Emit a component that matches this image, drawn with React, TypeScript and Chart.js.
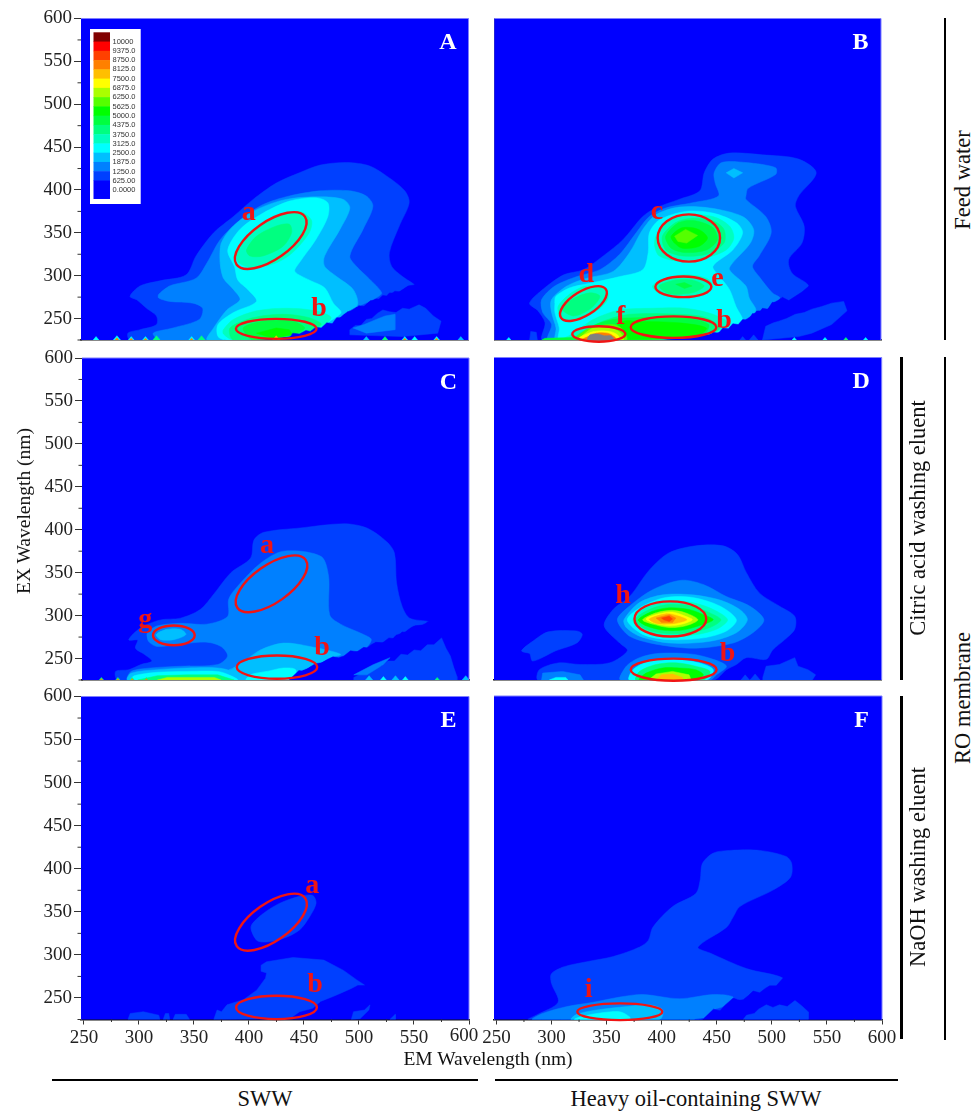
import React, { useEffect, useRef } from "react";
import { Chart, registerables } from "chart.js";

Chart.register(...registerables);

const SERIF = "'Liberation Serif', serif";
const SANS = "'Liberation Sans', sans-serif";
Chart.defaults.font.family = SERIF;

const levelColors: Record<number, string> = {
  0: "#0000ff", 625: "#0040ff", 1250: "#0080ff", 1875: "#00bfff", 2500: "#00ffff",
  3125: "#00ffbf", 3750: "#00ff80", 4375: "#00ff40", 5000: "#00ff00", 5625: "#55ff00",
  6250: "#aaff00", 6875: "#ffff00", 7500: "#ffbf00", 8125: "#ff8000", 8750: "#ff4000",
  9375: "#ff0000", 10000: "#800000", 11000: "#808080",
};
const legendLabels = ["10000","9375.0","8750.0","8125.0","7500.0","6875.0","6250.0","5625.0","5000.0","4375.0","3750.0","3125.0","2500.0","1875.0","1250.0","625.00","0.0000"];
const legendLevels = [10000,9375,8750,8125,7500,6875,6250,5625,5000,4375,3750,3125,2500,1875,1250,625,0];

const xTickValues = [250, 300, 350, 400, 450, 500, 550, 600];
const yTickValues = [250, 300, 350, 400, 450, 500, 550, 600];
const xMinorValues = [275, 325, 375, 425, 475, 525, 575];
const yMinorValues = [225, 275, 325, 375, 425, 475, 525, 575];

type P = number[][];

// Panel A
const a625: P = [[292,276],[301,288],[319,294],[343,301],[352,323],[368,350],[386,369],[404,389],[425,408],[446,420],[465,429],[489,432],[510,428],[528,414],[542,399],[546,385],[537,358],[528,327],[530,311],[540,299],[551,289],[545,288],[534,280],[528,280],[522,272],[513,274],[504,264],[495,264],[486,255],[477,245],[471,243],[461,237],[452,233],[440,233],[386,225],[292,225],[290,233],[301,237],[316,243],[316,253],[307,262],[298,272]];
const a1250: P = [[318,278],[328,288],[352,297],[362,315],[374,342],[392,365],[413,383],[437,393],[465,399],[492,399],[507,393],[513,381],[504,354],[492,323],[498,311],[510,296],[521,280],[516,274],[499,264],[495,264],[486,255],[477,245],[461,237],[446,233],[386,225],[319,225],[313,233],[331,239],[355,249],[358,262],[349,268],[328,270],[318,274]];
const a1875: P = [[374,315],[375,338],[386,358],[407,377],[434,389],[465,392],[486,389],[492,379],[483,354],[469,323],[469,311],[480,299],[495,284],[499,266],[486,255],[477,245],[461,237],[386,225],[362,225],[368,239],[380,260],[392,272],[386,284],[377,297]];
const a2500: P = [[381,330],[392,354],[413,373],[437,387],[461,391],[472,385],[472,369],[461,342],[446,315],[442,305],[455,295],[469,286],[477,268],[484,257],[474,247],[461,237],[446,231],[380,225],[372,229],[372,243],[386,257],[407,270],[399,284],[390,295],[387,311]];
const a3125Top: P = [[389,327],[401,350],[425,369],[446,375],[457,365],[455,350],[440,327],[425,315],[404,309],[391,315]];
const a3750Top: P = [[398,330],[407,346],[425,358],[437,360],[439,350],[431,334],[413,323],[401,323]];
const a3125Low: P = [[377,237],[386,249],[407,259],[434,262],[461,259],[475,251],[464,239],[446,231],[386,225],[377,232]];
const a3750Low: P = [[383,239],[404,251],[431,255],[455,251],[466,243],[446,232],[386,225]];
const a4375Low: P = [[395,239],[413,247],[440,247],[451,239],[440,231],[404,225]];
const a5000Low: P = [[407,233],[425,239],[437,237],[440,231],[422,227]];
const aCut: P = [[436,225],[440,233],[446,232],[452,236],[456,235],[461,240],[466,239],[471,245],[476,244],[480,251],[486,251],[490,258],[496,257],[500,265],[505,264],[511,271],[516,270],[522,277],[527,276],[533,282],[538,281],[545,288],[552,289.5],[560,270],[600,225]];
const a625Right: P = [[492,237],[497,242],[502,242],[507,249],[512,250],[517,256],[522,260],[528,258],[534,257],[540,262],[546,261],[555,266],[561,262],[568,253],[575,247],[572,233],[540,229],[492,231]];
const a1250Right: P = [[495,239],[505,243],[516,249],[524,253],[533,255],[533,237],[507,233]];
const spikesA: P = [[261,229,2500],[280,230,2500],[280,227.5,8125],[293,229,2500],[293,227,8125],[306,229,2500],[306,227,8125],[316,230,3750],[348,229,2500],[348,227,8125],[357,230,3750],[425,230,7500],[507,229,1875],[524,229,3750],[542,229,2500],[542,227,8125],[551,229,2500],[571,229,2500],[571,227,8125],[593,229,1875]];

// Panel B
const b625: P = [[280,268],[292,284],[311,301],[329,307],[347,323],[365,342],[383,369],[395,379],[416,389],[435,399],[439,420],[447,436],[462,443],[492,441],[525,436],[541,420],[525,393],[522,381],[530,358],[528,338],[516,319],[519,303],[534,288],[522,274],[516,270],[508,274],[501,268],[495,260],[486,259],[474,247],[462,239],[447,233],[386,225],[292,225],[294,245],[287,260]];
const b1250: P = [[291,272],[303,288],[323,299],[344,307],[362,325],[377,350],[389,369],[404,379],[428,385],[452,393],[449,408],[448,420],[455,432],[477,432],[504,426],[504,418],[479,402],[477,393],[477,389],[495,369],[500,350],[489,323],[483,311],[489,299],[501,280],[508,274],[501,268],[495,260],[486,259],[474,247],[462,239],[447,233],[386,225],[297,225],[300,243],[292,257]];
const b1875Top: P = [[459,420],[466,425],[474,420],[466,414]];
const b1875: P = [[300,272],[314,288],[332,297],[356,305],[371,327],[383,354],[395,371],[416,380],[444,379],[474,369],[484,354],[481,338],[465,315],[462,307],[477,288],[480,274],[486,259],[474,247],[462,239],[447,233],[386,225],[304,225],[304,239],[300,257]];
const b2500: P = [[304,276],[317,286],[338,292],[362,299],[383,307],[388,327],[389,350],[398,365],[422,375],[447,373],[468,362],[474,350],[465,330],[447,311],[453,299],[462,284],[468,264],[474,247],[462,239],[447,233],[386,225],[307,225],[307,239],[303,257],[303,268]];
const b3125C: P = [[395,346],[404,362],[422,371],[447,369],[462,358],[466,344],[459,330],[441,321],[416,317],[398,323],[394,334]];
const b3750C: P = [[401,346],[413,362],[428,367],[447,364],[457,354],[457,338],[441,325],[419,323],[404,330]];
const b4375C: P = [[404,346],[416,362],[431,364],[447,356],[451,342],[441,330],[422,327],[409,332]];
const b5000C: P = [[409,346],[419,356],[434,354],[442,344],[434,334],[419,332],[412,338]];
const b5625C: P = [[412,346],[422,354],[433,347],[423,338],[415,340]];
const b3125E: P = [[392,288],[404,297],[422,301],[441,297],[447,288],[435,278],[413,274],[397,280]];
const b3750E: P = [[398,288],[413,295],[428,295],[439,288],[428,280],[407,279]];
const b4375E: P = [[413,290],[421,292],[428,288],[421,285]];
const b3125D: P = [[306,264],[318,280],[332,288],[350,284],[351,272],[341,259],[323,249],[309,251]];
const b3750D: P = [[309,262],[321,274],[335,280],[344,276],[336,262],[320,253]];
const b3125Low: P = [[320,233],[338,249],[362,260],[392,262],[422,262],[447,255],[460,245],[447,233],[386,225],[310,225]];
const b3750Low: P = [[326,233],[347,247],[371,255],[416,255],[441,251],[453,239],[444,233],[386,225],[320,225]];
const b4375Low: P = [[335,239],[356,249],[377,251],[422,251],[443,243],[438,231],[386,225],[335,225]];
const b5000Low: P = [[356,237],[365,247],[377,247],[416,245],[441,239],[431,229],[341,225],[344,231]];
const b5625F: P = [[323,229],[335,239],[356,243],[365,237],[368,225],[320,225]];
const b6250F: P = [[325,227],[338,239],[354,239],[363,233],[365,225],[323,225]];
const b6875F: P = [[327,229],[339,235],[353,235],[360,231],[362,225],[324,225]];
const b8125F: P = [[330,227],[341,233],[351,233],[357,229],[359,225],[327,225]];
const bGreyF: P = [[333,225],[335,231],[342,232],[348,230],[354,230],[357,225]];
const bCut: P = [[440,225],[447,234],[452,233],[456,239],[461,238],[465,244],[470,243],[474,249],[479,248],[483,256],[488,255],[492,262],[497,261],[501,269],[506,268],[510,275],[516,271],[522,276],[528,281],[535,288.5],[540,270],[600,225]];
const b625Right: P = [[492,225],[495,241],[502,245],[507,247],[514,250],[522,255],[530,257],[537,261],[546,264],[555,268],[566,270],[569,259],[555,243],[537,233],[525,229]];
const b625Left: P = [[280,225],[281,235],[286,234],[287,225]];
const b4375Band: P = [[291,225],[294,227],[320,228],[326,225]];
const spikesB: P = [[261,228,2500],[474,229,625],[484,231,625],[521,228,2500],[549,228,2500],[568,228,3750],[586,228,2500]];

// Panel C
const c625: P = [[290,272],[301,286],[319,295],[337,297],[355,307],[368,326],[383,350],[401,367],[404,388],[413,397],[446,402],[486,407],[507,402],[525,386],[532,373],[534,338],[539,311],[546,297],[563,293],[558,290],[549,288],[540,280],[534,278],[527,270],[513,268],[504,260],[495,258],[486,251],[474,251],[461,243],[446,235],[440,225],[280,225],[278,235],[290,237],[301,243],[311,247],[304,255],[296,262],[298,272]];
const c1250: P = [[307,280],[316,288],[337,291],[361,290],[380,299],[381,319],[389,334],[410,361],[431,375],[465,369],[472,346],[473,301],[483,290],[504,278],[511,272],[504,260],[495,258],[486,251],[474,251],[461,243],[446,235],[440,225],[289,225],[292,235],[310,239],[337,241],[371,243],[380,253],[374,264],[361,269],[337,267],[316,264],[308,270]];
const c1875Low: P = [[389,241],[410,260],[431,268],[455,264],[483,255],[474,251],[461,243],[446,235],[440,225],[386,225],[380,235]];
const c1875Band: P = [[289,225],[292,233],[316,237],[343,239],[371,239],[383,235],[386,225]];
const c2500Band: P = [[292,225],[295,230],[316,234],[343,235],[371,235],[381,231],[389,225]];
const c3750Band: P = [[298,225],[316,230],[343,231],[371,231],[386,225]];
const c6250Band: P = [[316,225],[325,228],[343,228],[368,228],[374,225]];
const c2500B: P = [[401,231],[416,235],[431,239],[442,237],[440,225],[397,225]];
const c1875G: P = [[315,278],[325,284],[337,284],[342,278],[331,272],[319,272]];
const cCut: P = [[436,225],[445,236],[450,235],[455,240],[460,244],[466,245],[471,249],[476,252],[481,251],[486,253],[492,259],[498,258],[504,263],[509,262],[515,269],[521,268],[527,274],[533,273],[539,281],[545,280],[551,288],[557,287],[563,293.5],[570,270],[600,225]];
const c625Right: P = [[495,228],[500,231],[504,236],[509,236],[514,241],[520,241],[526,247],[532,247],[538,255],[544,254],[550,260],[556,259],[562,266],[568,266],[575,274],[579,262],[583,253],[586,240],[589,229],[589,225],[495,225]];
const c1250Right: P = [[495,231],[513,243],[528,251],[522,243],[507,231]];
const spikesC: P = [[265,228,3750],[265,226.5,8125],[280,228,3750],[280,226.5,8125],[293,228,3750],[293,226.5,8125],[306,228,3750],[306,226.5,8125],[509,230,1875],[522,229,2500],[533,230,1875],[542,229,2500],[571,228,3750],[597,230,1875]];

// Panel D
const d625: P = [[348,288],[356,307],[371,322],[389,353],[407,373],[431,381],[456,381],[469,371],[477,350],[489,326],[507,311],[521,299],[521,284],[512,272],[501,260],[495,249],[477,251],[468,243],[459,237],[447,225],[288,225],[289,237],[307,245],[326,243],[353,245],[369,259],[362,268]];
const d625Blob: P = [[273,259],[283,270],[297,281],[323,282],[328,278],[323,268],[304,259],[283,247],[280,256]];
const d1250: P = [[360,295],[371,311],[392,330],[418,341],[438,336],[459,322],[480,311],[493,295],[483,280],[465,268],[431,262],[398,266],[371,276]];
const d1875: P = [[366,295],[380,315],[401,324],[428,324],[453,318],[471,307],[478,295],[468,280],[444,270],[407,268],[380,276],[368,286]];
const d2500: P = [[369,295],[383,311],[404,321],[428,321],[453,311],[468,295],[459,282],[438,274],[407,272],[383,278]];
const d3125: P = [[374,295],[386,309],[407,317],[428,315],[447,307],[460,295],[450,284],[428,277],[404,276],[383,282]];
const d3750: P = [[376,295],[389,307],[407,313],[428,311],[444,303],[454,295],[444,286],[425,280],[404,279],[386,284]];
const d5000: P = [[379,295],[392,305],[407,309],[425,307],[438,301],[447,295],[434,288],[419,283],[401,283],[386,288]];
const d6250: P = [[383,295],[395,303],[409,306],[422,303],[433,295],[422,288],[407,286],[392,290]];
const d6875: P = [[386,296],[398,302],[410,304],[422,299],[428,295],[419,290],[407,288],[394,291]];
const d7500: P = [[389,296],[405,302],[416,299],[423,295],[413,291],[400,290],[393,292]];
const d8125: P = [[395,297],[407,301],[413,297],[410,292],[400,292]];
const d8750: P = [[400,297],[407,299],[410,296],[407,293],[402,295]];
const d1250Low: P = [[363,225],[368,241],[380,251],[398,256],[428,255],[447,249],[459,241],[450,231],[444,225]];
const d2500Low: P = [[371,225],[374,237],[389,247],[410,249],[434,245],[447,237],[441,225]];
const d3750Low: P = [[377,225],[380,235],[395,243],[413,245],[431,241],[444,235],[438,225]];
const d5000Low: P = [[380,225],[386,233],[401,239],[416,239],[431,237],[438,231],[431,225]];
const d6250Low: P = [[388,225],[395,232],[410,235],[425,231],[427,225]];
const d7500Low: P = [[395,225],[400,231],[410,232],[419,228],[419,225]];
const d1250Band: P = [[291,225],[292,233],[310,235],[326,231],[329,225]];
const d2500Band: P = [[298,225],[304,228],[313,228],[315,225]];
const d625Right: P = [[492,228],[495,241],[507,243],[521,251],[524,241],[533,237],[540,231],[537,225],[492,225]];
const spikesD: P = [[476,231,625],[485,232,625]];

// Panel E
const e625A: P = [[402,333],[413,348],[428,360],[446,368],[458,369],[461,360],[455,344],[446,329],[431,319],[416,315],[407,317]];
const e625B: P = [[411,288],[416,292],[440,297],[468,294],[486,282],[498,271],[505,265],[499,265],[493,261],[486,257],[477,252],[465,246],[458,238],[446,234],[437,226],[368,225],[371,236],[375,234],[380,242],[395,248],[407,259],[415,273],[416,279],[411,281]];
const e625Left1: P = [[290,225],[292,232],[304,234],[318,230],[319,225]];
const e625Left2: P = [[322,225],[324,232],[327,232],[328,225]];
const e625Left3: P = [[331,225],[333,231],[343,231],[346,225]];
const e625Right1: P = [[493,225],[495,234],[505,236],[510,242],[509,236],[501,226]];
const e625Right2: P = [[528,225],[533,231],[533,225]];

// Panel F
const f625: P = [[300,278],[311,286],[332,292],[356,298],[380,309],[388,317],[392,332],[410,356],[431,371],[435,387],[437,406],[447,418],[462,421],[489,421],[513,414],[518,406],[517,390],[501,375],[471,356],[465,344],[459,332],[433,309],[444,302],[477,284],[510,273],[504,263],[498,263],[489,255],[483,257],[474,247],[465,249],[453,234],[447,236],[438,226],[434,225],[279,225],[286,230],[306,245],[300,267]];
const f1250: P = [[283,225],[292,232],[314,240],[338,245],[362,251],[383,254],[416,249],[447,254],[465,251],[460,242],[447,236],[438,226],[434,225]];
const f1875: P = [[318,225],[323,231],[341,236],[368,240],[389,242],[401,236],[398,225]];
const f2500: P = [[321,225],[329,229],[347,233],[362,234],[371,228],[371,225]];
const fCut: P = [[430,225],[438,226],[443,232],[447,237],[453,235],[457,241],[465,250],[469,247],[474,248],[479,253],[483,258],[489,256],[494,261],[498,264],[504,264],[510.5,273.5],[520,260],[600,225]];
const f625Right: P = [[474,225],[477,230],[484,232],[488,237],[495,242],[501,239],[507,242],[514,240],[521,247],[527,241],[533,234],[533,225]];

type Layer = [number, P];
const layersA: Layer[] = [[625,a625],[1250,a1250],[1875,a1875],[2500,a2500],[3125,a3125Top],[3750,a3750Top],[3125,a3125Low],[3750,a3750Low],[4375,a4375Low],[5000,a5000Low],[0,aCut],[625,a625Right],[1250,a1250Right]];
const layersB: Layer[] = [[625,b625],[625,b625Left],[1250,b1250],[1875,b1875Top],[1875,b1875],[2500,b2500],[3125,b3125C],[3750,b3750C],[4375,b4375C],[5000,b5000C],[5625,b5625C],[3125,b3125E],[3750,b3750E],[4375,b4375E],[3125,b3125D],[3750,b3750D],[3125,b3125Low],[3750,b3750Low],[4375,b4375Low],[5000,b5000Low],[5625,b5625F],[6250,b6250F],[6875,b6875F],[8125,b8125F],[11000,bGreyF],[4375,b4375Band],[0,bCut],[625,b625Right]];
const layersC: Layer[] = [[625,c625],[1250,c1250],[1875,c1875Low],[1875,c1875Band],[2500,c2500Band],[3750,c3750Band],[6250,c6250Band],[2500,c2500B],[1875,c1875G],[0,cCut],[625,c625Right],[1250,c1250Right]];
const layersD: Layer[] = [[625,d625],[625,d625Blob],[625,d625Right],[1250,d1250],[1875,d1875],[2500,d2500],[3125,d3125],[3750,d3750],[5000,d5000],[6250,d6250],[6875,d6875],[7500,d7500],[8125,d8125],[8750,d8750],[1250,d1250Low],[2500,d2500Low],[3750,d3750Low],[5000,d5000Low],[6250,d6250Low],[7500,d7500Low],[1250,d1250Band],[2500,d2500Band]];
const layersE: Layer[] = [[625,e625A],[625,e625B],[625,e625Left1],[625,e625Left2],[625,e625Left3],[625,e625Right1],[625,e625Right2]];
const layersF: Layer[] = [[625,f625],[1250,f1250],[1875,f1875],[2500,f2500],[0,fCut],[625,f625Right]];

const jagged = new Set<P>([aCut, bCut, cCut, fCut, a625Right, a1250Right, b625Right, c625Right, f625Right, e625B, e625Right1, d625Right]);

// [em, ex, rx (nm of em), ry (nm of em), rotation deg]
const ringsA: P = [[420,341,38,17,-35],[425,238,36.7,9.1,0]];
const ringsB: P = [[425,344,28.4,21.5,0],[329,267.5,24.2,11,-32],[420,287,25.5,9.4,0],[411,240,39,9.8,0],[343,232,24.2,7,0]];
const ringsC: P = [[420,337,38,17,-35],[331,277,19,9,0],[425,240,36.7,10.6,0]];
const ringsD: P = [[408,296,32.6,16,0],[411,237,39,10,0]];
const ringsE: P = [[420,338,38,17,-35],[425,239,36.7,10.6,0]];
const ringsF: P = [[362,234,38.6,7.6,0]];

type Tag = [string, number, number];
const tagsA: Tag[] = [["a",400,373],["b",464,262]];
const tagsB: Tag[] = [["c",396,375],["d",331.5,301],["e",451,297],["f",363,252],["b",457,248]];
const tagsC: Tag[] = [["a",416,381],["g",305,295.5],["b",466,263]];
const tagsD: Tag[] = [["h",365,323],["b",460,255]];
const tagsE: Tag[] = [["a",457.5,380],["b",460,265]];
const tagsF: Tag[] = [["i",333.6,259]];

interface Panel {
  letter: string; l: number; r: number; t: number; b: number; xMin: number;
  leftCol: boolean; showX: boolean; layers: Layer[]; spikes: P; rings: P; tags: Tag[]; legend?: boolean;
}
const panels: Panel[] = [
  { letter: "A", l: 81, r: 468.5, t: 18.5, b: 340, xMin: 247.3, leftCol: true, showX: false, layers: layersA, spikes: spikesA, rings: ringsA, tags: tagsA, legend: true },
  { letter: "B", l: 494.3, r: 881, t: 18.5, b: 340, xMin: 247.8, leftCol: false, showX: false, layers: layersB, spikes: spikesB, rings: ringsB, tags: tagsB },
  { letter: "C", l: 82, r: 469, t: 358, b: 680, xMin: 247.3, leftCol: true, showX: false, layers: layersC, spikes: spikesC, rings: ringsC, tags: tagsC },
  { letter: "D", l: 494, r: 881.7, t: 357.5, b: 680, xMin: 247.8, leftCol: false, showX: false, layers: layersD, spikes: spikesD, rings: ringsD, tags: tagsD },
  { letter: "E", l: 81, r: 469, t: 696.5, b: 1019.5, xMin: 247.3, leftCol: true, showX: true, layers: layersE, spikes: [], rings: ringsE, tags: tagsE },
  { letter: "F", l: 494, r: 882, t: 696, b: 1019.5, xMin: 247.8, leftCol: false, showX: true, layers: layersF, spikes: [], rings: ringsF, tags: tagsF },
];

function spikeLayer(s: number[]): Layer {
  const half = (s[1] - 225) * 0.65;
  return [s[2], [[s[0] - half, 225], [s[0], s[1]], [s[0] + half, 225]]];
}

function panelPlugin(p: Panel) {
  return {
    id: "panelDecor" + p.letter,
    beforeDatasetsDraw(chart: any) {
      const { ctx, chartArea: a } = chart;
      ctx.save();
      ctx.fillStyle = levelColors[0];
      ctx.fillRect(a.left, a.top, a.right - a.left, a.bottom - a.top);
      ctx.restore();
    },
    afterDatasetsDraw(chart: any) {
      const { ctx, chartArea: a, scales } = chart;
      const x = scales.x, y = scales.y;
      ctx.save();
      ctx.strokeStyle = "#7f7fff";
      ctx.lineWidth = 1;
      ctx.beginPath();
      ctx.moveTo(a.left, a.top);
      ctx.lineTo(a.right, a.top);
      ctx.lineTo(a.right, a.bottom);
      ctx.stroke();
      ctx.strokeStyle = "#333";
      ctx.beginPath();
      if (p.leftCol) {
        for (const v of yMinorValues) {
          const py = y.getPixelForValue(v);
          ctx.moveTo(a.left - 3.5, py);
          ctx.lineTo(a.left, py);
        }
      }
      if (p.showX) {
        for (const v of xMinorValues) {
          const px = x.getPixelForValue(v);
          ctx.moveTo(px, a.bottom);
          ctx.lineTo(px, a.bottom + 2.5);
        }
      }
      ctx.stroke();
      if (p.letter === "E") {
        ctx.fillStyle = "#222";
        ctx.font = `19px ${SERIF}`;
        ctx.textAlign = "center";
        ctx.textBaseline = "top";
        ctx.fillText("600", x.getPixelForValue(600) - 5, a.bottom + 7);
      }
      ctx.strokeStyle = "#f01414";
      ctx.lineWidth = 2.4;
      for (const r of p.rings) {
        const cx = x.getPixelForValue(r[0]);
        const cy = y.getPixelForValue(r[1]);
        const rx = x.getPixelForValue(r[0] + r[2]) - cx;
        const ry = x.getPixelForValue(r[0] + r[3]) - cx;
        ctx.beginPath();
        ctx.ellipse(cx, cy, rx, ry, (r[4] * Math.PI) / 180, 0, Math.PI * 2);
        ctx.stroke();
      }
      ctx.textAlign = "center";
      ctx.textBaseline = "middle";
      ctx.fillStyle = "#f01414";
      ctx.font = `bold 28px ${SERIF}`;
      for (const t of p.tags) {
        ctx.fillText(t[0], x.getPixelForValue(t[1]), y.getPixelForValue(t[2]));
      }
      ctx.fillStyle = "#ffffff";
      ctx.font = `bold 24px ${SERIF}`;
      ctx.fillText(p.letter, a.right - 20.5, a.top + 24.5);
      if (p.legend) {
        const bx = a.left + 9, by = a.top + 10.5;
        ctx.fillStyle = "#ffffff";
        ctx.fillRect(bx, by, 50.7, 175);
        const sw = 9.26;
        legendLevels.forEach((lv, i) => {
          ctx.fillStyle = levelColors[lv];
          ctx.fillRect(bx + 3.5, by + 3.3 + i * sw, 16.5, i === 16 ? sw * 2 : sw + 0.5);
        });
        ctx.fillStyle = "#333";
        ctx.font = `7.5px ${SANS}`;
        ctx.textAlign = "left";
        legendLabels.forEach((s, i) => {
          ctx.fillText(s, bx + 22.5, by + 12.5 + i * 9.3);
        });
      }
      ctx.restore();
    },
  };
}

function makeChart(canvas: HTMLCanvasElement, p: Panel, cl: number, ct: number, cw: number, ch: number) {
  const xH = p.showX ? 30 : 0;
  const all: Layer[] = [...p.layers, ...p.spikes.map(spikeLayer)];
  const datasets = all.map(([lv, pts], i) => {
    const smooth = pts.length > 5 && !jagged.has(pts);
    const path = smooth ? [pts[pts.length - 1], ...pts, pts[0], pts[1]] : [...pts, pts[0]];
    return {
      data: path.map((q) => ({ x: q[0], y: q[1] })),
      showLine: true,
      fill: "shape",
      backgroundColor: levelColors[lv],
      borderColor: levelColors[lv],
      borderWidth: 0.5,
      pointRadius: 0,
      pointHoverRadius: 0,
      tension: smooth ? 0.3 : 0,
      order: all.length - i,
    };
  });
  const zero = (s: any) => {
    s.paddingLeft = 0; s.paddingRight = 0; s.paddingTop = 0; s.paddingBottom = 0;
  };
  return new Chart(canvas, {
    type: "scatter",
    data: { datasets } as any,
    plugins: [panelPlugin(p)],
    options: {
      animation: false,
      responsive: false,
      devicePixelRatio: 1,
      events: [],
      layout: {
        padding: { left: 0, right: cl + cw - p.r, top: p.t - ct, bottom: ct + ch - p.b - xH },
      },
      plugins: { legend: { display: false }, tooltip: { enabled: false }, title: { display: false } },
      scales: {
        x: {
          type: "linear",
          min: p.xMin,
          max: 600,
          afterBuildTicks: (s: any) => { s.ticks = xTickValues.map((value) => ({ value })); },
          afterFit: (s: any) => { s.height = xH; zero(s); },
          ticks: {
            display: p.showX, color: "#222", autoSkip: false, maxRotation: 0, padding: 2,
            font: { family: SERIF, size: 19 },
            callback: (v: number) => (p.letter === "E" && v === 600 ? "" : String(v)),
          },
          grid: { drawOnChartArea: false, drawTicks: p.showX, tickLength: 5, tickColor: "#333" },
          border: { display: true, color: "#111", width: 1.5 },
        },
        y: {
          type: "linear",
          min: 225,
          max: 600,
          afterBuildTicks: (s: any) => { s.ticks = yTickValues.map((value) => ({ value })); },
          afterFit: (s: any) => { s.width = p.l - cl; zero(s); },
          ticks: {
            display: p.leftCol, color: "#222", autoSkip: false, padding: 2,
            font: { family: SERIF, size: 19 },
          },
          grid: { drawOnChartArea: false, drawTicks: p.leftCol, tickLength: 7, tickColor: "#333" },
          border: { display: true, color: p.leftCol ? "#555" : "#777", width: 1 },
        },
      },
    } as any,
  });
}

function rect(p: Panel) {
  const cl = p.leftCol ? 0 : 480;
  const cw = p.leftCol ? 480 : 430;
  const ct = Math.floor(p.t) - 18;
  const ch = Math.ceil(p.b) - ct + (p.showX ? 32 : 10);
  return { cl, ct, cw, ch };
}

function PanelChart({ p }: { p: Panel }) {
  const ref = useRef<HTMLCanvasElement>(null);
  const { cl, ct, cw, ch } = rect(p);
  useEffect(() => {
    const c = makeChart(ref.current!, p, cl, ct, cw, ch);
    return () => c.destroy();
  }, []);
  return <canvas ref={ref} width={cw} height={ch} style={{ position: "absolute", left: cl, top: ct, width: cw, height: ch, filter: "blur(0.4px)" }} />;
}

const vLines = [[945, 18, 340], [945, 357, 1040], [901.5, 357, 680], [901.5, 696, 1039]];
const hLines = [[52, 478, 1080], [495, 898, 1080]];
const captions: [string, number, number, number, number][] = [
  ["EM Wavelength (nm)", 488, 1059, 0, 19.5],
  ["EX Wavelength (nm)", 24, 511, -90, 19.5],
  ["SWW", 265, 1099, 0, 22.5],
  ["Heavy oil-containing SWW", 696, 1099, 0, 22.5],
  ["Feed water", 963, 180, -90, 22.5],
  ["Citric acid washing eluent", 918, 518, -90, 22.5],
  ["NaOH washing eluent", 918, 867, -90, 22.5],
  ["RO membrane", 963, 698, -90, 22.5],
];

export default function App() {
  return (
    <div style={{ position: "absolute", left: 0, top: 0, width: 974, height: 1111, background: "#fff", overflow: "hidden" }}>
      {panels.map((p) => <PanelChart key={p.letter} p={p} />)}
      {vLines.map((v, i) => (
        <div key={"v" + i} style={{ position: "absolute", left: v[0] - 1.25, top: v[1], width: 2.5, height: v[2] - v[1], background: "#000" }} />
      ))}
      {hLines.map((h, i) => (
        <div key={"h" + i} style={{ position: "absolute", left: h[0], top: h[2] - 1.25, width: h[1] - h[0], height: 2.5, background: "#000" }} />
      ))}
      {captions.map(([s, x, y, rot, size]) => (
        <div key={s} style={{ position: "absolute", left: x, top: y, transform: `translate(-50%,-50%) rotate(${rot}deg)`, whiteSpace: "nowrap", fontFamily: SERIF, fontSize: size, color: "#111" }}>{s}</div>
      ))}
    </div>
  );
}
